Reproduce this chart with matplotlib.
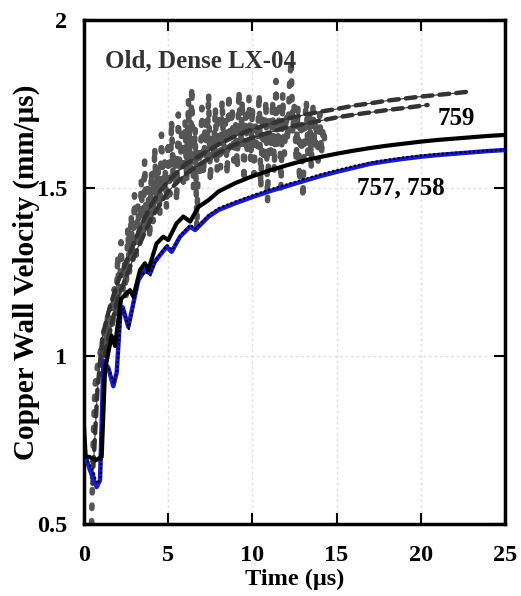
import numpy as np
import matplotlib.pyplot as plt

plt.rcParams['font.family'] = ['Liberation Serif', 'DejaVu Serif']
plt.rcParams['font.weight'] = 'bold'

# shot 757 (blue)
t757 = [0.0, 0.06, 0.36, 0.75, 0.95, 1.04, 1.15, 1.44, 1.74, 1.94, 2.15, 2.3, 2.63,
        2.9, 3.23, 3.62, 3.92, 4.2, 4.51, 4.91, 5.2, 5.7, 6.3, 6.6, 7.4, 8, 9, 10, 11,
        12, 13, 14, 15, 16, 17, 18, 19, 20, 21, 22, 23, 24, 25]
v757 = [0.72, 0.705, 0.66, 0.61, 0.63, 0.78, 0.985, 0.965, 0.91, 0.95, 1.12, 1.145, 1.087,
        1.15, 1.226, 1.256, 1.246, 1.28, 1.30, 1.325, 1.31, 1.355, 1.385, 1.375, 1.415, 1.435,
        1.455, 1.473, 1.49, 1.505, 1.52, 1.535, 1.548, 1.56, 1.572, 1.58, 1.587, 1.593,
        1.598, 1.602, 1.606, 1.61, 1.613]

# shot 758 (black, nearly on top of 757)
t758 = [0.0, 0.1, 0.4, 0.8, 1.0, 1.08, 1.2, 1.5, 1.78, 1.98, 2.2, 2.35, 2.66,
        2.95, 3.28, 3.66, 3.95, 4.25, 4.55, 4.95, 5.25, 5.75, 6.3, 6.65, 7.4, 8, 9, 10, 11,
        12, 13, 14, 15, 16, 17, 18, 19, 20, 21, 22, 23, 24, 25]
v758 = [0.74, 0.70, 0.67, 0.62, 0.64, 0.80, 0.975, 0.96, 0.92, 0.96, 1.13, 1.14, 1.08,
        1.16, 1.235, 1.25, 1.24, 1.285, 1.305, 1.33, 1.315, 1.36, 1.39, 1.38, 1.42, 1.44,
        1.46, 1.478, 1.495, 1.51, 1.525, 1.54, 1.553, 1.565, 1.576, 1.584, 1.591, 1.597,
        1.601, 1.605, 1.608, 1.611, 1.615]

# shot 759 (black)
t759 = [0.0, 0.1, 0.3, 0.7, 1.05, 1.25, 1.64, 1.84, 2.2, 2.73, 2.93, 3.33, 3.62, 3.82,
        4.31, 4.71, 5.0, 5.5, 5.9, 6.3, 6.8, 7.4, 8, 9, 10, 11, 12, 13, 14, 15, 16, 17,
        18, 19, 20, 21, 22, 23, 24, 25]
v759 = [0.79, 0.70, 0.70, 0.69, 0.70, 0.96, 1.06, 1.03, 1.17, 1.196, 1.177, 1.256, 1.276,
        1.256, 1.335, 1.355, 1.345, 1.395, 1.415, 1.40, 1.444, 1.464, 1.49, 1.515, 1.535,
        1.552, 1.567, 1.581, 1.592, 1.602, 1.611, 1.619, 1.626, 1.632, 1.638, 1.643, 1.647,
        1.651, 1.655, 1.658]

# noisy grey record
t_noisy = [0.45, 0.55, 0.65, 0.8] + [round(1.0 + 0.1 * i, 1) for i in range(135)]
v_noisy = [0.50, 0.75, 0.91, 0.97,
           1.02, 0.98, 1.08, 1.03, 1.12, 1.05, 1.15, 1.08, 1.20, 1.12,
           1.30, 1.15, 1.34, 1.20, 1.28, 1.18, 1.38, 1.25, 1.42, 1.28,
           1.48, 1.30, 1.45, 1.33, 1.52, 1.36, 1.58, 1.40, 1.50, 1.35,
           1.55, 1.40, 1.62, 1.45, 1.56, 1.42, 1.66, 1.50, 1.58, 1.44,
           1.64, 1.48, 1.70, 1.52, 1.60, 1.46, 1.72, 1.55, 1.66, 1.50,
           1.70, 1.52, 1.76, 1.56, 1.80, 1.50, 1.68, 1.38, 1.62, 1.55,
           1.74, 1.54, 1.70, 1.58, 1.78, 1.52, 1.66, 1.60, 1.74, 1.55,
           1.72, 1.56, 1.76, 1.60, 1.70, 1.54, 1.78, 1.62, 1.74, 1.58,
           1.70, 1.56, 1.79, 1.62, 1.76, 1.52, 1.72, 1.60, 1.77, 1.58,
           1.74, 1.54, 1.70, 1.62, 1.78, 1.50, 1.72, 1.58, 1.76, 1.46,
           1.70, 1.60, 1.76, 1.55, 1.82, 1.62, 1.74, 1.50, 1.78, 1.60,
           1.72, 1.64, 1.80, 1.88, 1.66, 1.76, 1.58, 1.74, 1.52, 1.70,
           1.47, 1.68, 1.76, 1.60, 1.72, 1.56, 1.74, 1.62, 1.70, 1.58,
           1.72, 1.60, 1.68, 1.64, 1.66]

# smooth dark grey dashed curves
t_calc1 = [0.5, 0.8, 1.1, 1.5, 2, 2.5, 3, 3.5, 4, 4.5, 5, 6, 7, 8, 9, 10, 11, 12, 13,
           14, 15, 16, 17, 18, 19, 20, 21, 22, 22.7]
v_calc1 = [0.62, 0.90, 1.06, 1.14, 1.22, 1.28, 1.34, 1.40, 1.45, 1.49, 1.52, 1.57, 1.60,
           1.63, 1.655, 1.675, 1.69, 1.705, 1.717, 1.727, 1.735, 1.745, 1.752, 1.76, 1.766,
           1.772, 1.777, 1.782, 1.786]
t_calc2 = [1.2, 2, 3, 4, 5, 6, 7, 8, 9, 10, 11, 12, 13, 14, 15, 16, 17, 18, 19, 20.4]
v_calc2 = [1.0, 1.17, 1.30, 1.41, 1.49, 1.54, 1.575, 1.605, 1.63, 1.65, 1.665, 1.68, 1.69,
           1.70, 1.71, 1.718, 1.725, 1.732, 1.738, 1.747]

fig = plt.figure(figsize=(5.21, 5.96), dpi=100)
ax = fig.add_axes([84 / 521, 72 / 596, 421 / 521, 504 / 596])

ax.plot(t_noisy, v_noisy, color='#555555', lw=4, ls=(0, (0.6, 2.2)),
        dash_capstyle='round', zorder=2)
ax.plot(t_calc1, v_calc1, color='#333333', lw=0.8, zorder=3)
ax.plot(t_calc1, v_calc1, color='#333333', lw=3.2, ls=(0, (2.2, 1.6)),
        dash_capstyle='round', zorder=3)
ax.plot(t_calc2, v_calc2, color='#333333', lw=0.8, zorder=3)
ax.plot(t_calc2, v_calc2, color='#333333', lw=3.2, ls=(0, (2.2, 1.6)),
        dash_capstyle='round', zorder=3)
ax.plot(t757, v757, color='#1a1ad0', lw=3.2, zorder=4)
ax.plot(t758, v758, color='black', lw=1.6, ls=(0, (1, 1)), zorder=5)
ax.plot(t759, v759, color='black', lw=3, zorder=5)

ax.set_xlim(0, 25)
ax.set_ylim(0.5, 2)
ax.set_xticks([0, 5, 10, 15, 20, 25])
ax.set_yticks([0.5, 1, 1.5, 2])
ax.set_yticklabels(['0.5', '1', '1.5', '2'])
ax.grid(True, color='#e0e0e0', ls=(0, (2, 2)), lw=1)
ax.tick_params(direction='in', length=8, width=1.5, top=True, right=True,
               labelsize=17.5, pad=12)
ax.tick_params(axis='x', pad=15)
for s in ax.spines.values():
    s.set_linewidth(2.5)

ax.set_xlabel('Time (μs)', fontsize=17.5, fontweight='bold', labelpad=2)
ax.set_ylabel('Copper Wall Velocity (mm/μs)', fontsize=21, fontweight='bold', labelpad=-2)

ax.text(1.25, 1.88, 'Old, Dense LX-04', fontsize=18, fontweight='bold',
        color='#333333', va='center')
ax.text(21.0, 1.708, '759', fontsize=18, fontweight='bold', va='center')
ax.text(16.2, 1.50, '757, 758', fontsize=18, fontweight='bold', va='center')

fig.savefig('out.png', dpi=100)
